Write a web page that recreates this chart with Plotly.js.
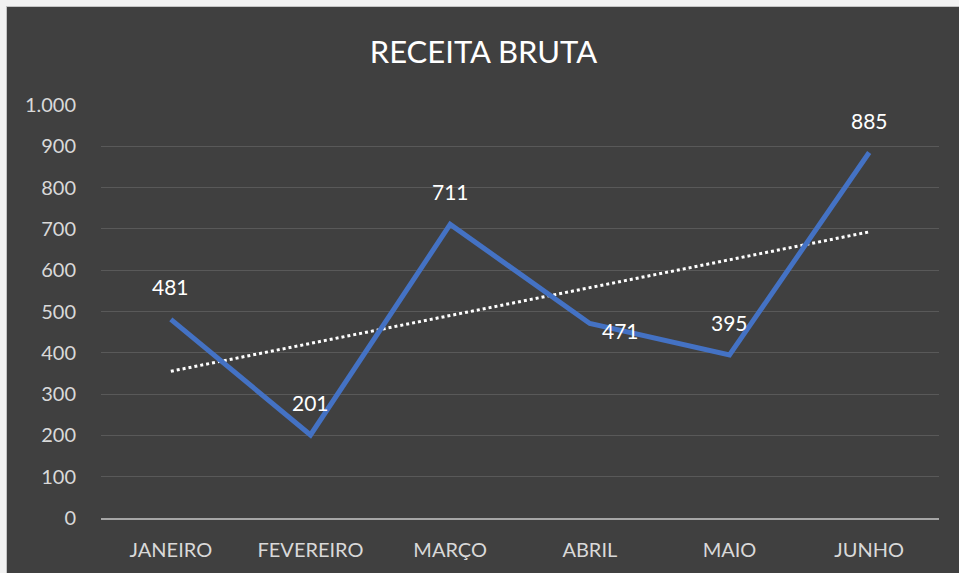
<!DOCTYPE html>
<html><head><meta charset="utf-8">
<script src="https://cdn.plot.ly/plotly-3.0.1.min.js"></script>
<style>
html,body{margin:0;padding:0;background:#f2f2f2;width:959px;height:573px;overflow:hidden;}
#wrap{position:absolute;left:6px;top:6px;width:953px;height:567px;border-left:1px solid #c4c4c4;border-top:1px solid #c4c4c4;}
#chart{width:953px;height:567px;}
</style></head><body>
<div id="wrap"><div id="chart"></div></div>
<script>
const categories = ['JANEIRO','FEVEREIRO','MARÇO','ABRIL','MAIO','JUNHO'];
const receita = [481, 201, 711, 471, 395, 885];
const labelPositions = ['above','above','above','right','above','above'];

// linear trendline (least squares) from the data
const n = receita.length;
const xs = receita.map((_, i) => i + 1);
const mx = xs.reduce((a,b)=>a+b,0)/n, my = receita.reduce((a,b)=>a+b,0)/n;
let sxy=0, sxx=0;
for (let i=0;i<n;i++){ sxy += (xs[i]-mx)*(receita[i]-my); sxx += (xs[i]-mx)**2; }
const slope = sxy/sxx, icpt = my - slope*mx;
const trend = xs.map(x => icpt + slope*x);

const font = "Lato, 'Open Sans', sans-serif";

const traces = [
  {x: categories, y: trend, type:'scatter', mode:'lines',
   line:{color:'#ffffff', width:3, dash:'dot'}, hoverinfo:'skip'},
  {x: categories, y: receita, type:'scatter', mode:'lines',
   line:{color:'#4472C4', width:5}}
];

const annotations = receita.map((v,i) => {
  const right = labelPositions[i] === 'right';
  return {x: categories[i], y: v, text: String(v), showarrow:false,
    xanchor: right ? 'left' : 'center', yanchor: right ? 'middle' : 'bottom',
    xshift: right ? 10 : 0, yshift: right ? -7 : 18,
    font:{family:font, size:21, color:'#ffffff'}};
});

const layout = {
  width:953, height:567,
  paper_bgcolor:'#404040', plot_bgcolor:'#404040',
  margin:{l:94, r:21, t:98, b:56},
  showlegend:false,
  separators:',.',
  title:{text:'RECEITA BRUTA', x:0.5, xanchor:'center', y:0.921, yanchor:'middle',
         font:{family:font, size:31, color:'#ffffff'}},
  xaxis:{type:'category', range:[-0.5,5.5], showgrid:false, zeroline:false,
         showline:true, linecolor:'#a6a6a6', linewidth:2,
         ticks:'outside', ticklen:13, tickcolor:'rgba(0,0,0,0)',
         tickfont:{family:font, size:20, color:'#d9d9d9'}},
  yaxis:{range:[0,1000], dtick:100, tickformat:',d', showgrid:true, gridcolor:'#595959', gridwidth:1,
         zeroline:false, showline:false,
         ticks:'outside', ticklen:20, tickcolor:'rgba(0,0,0,0)',
         tickfont:{family:font, size:20, color:'#d9d9d9'}},
  annotations: annotations
};

Plotly.newPlot('chart', traces, layout, {displayModeBar:false, staticPlot:true});
</script>
</body></html>
